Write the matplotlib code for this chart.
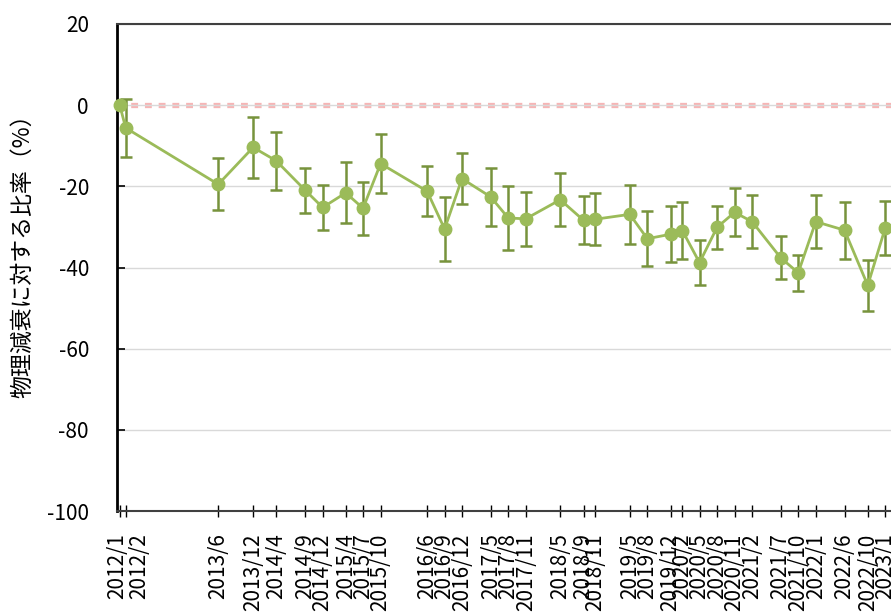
import numpy as np
import pandas as pd
import matplotlib
matplotlib.use('Agg')
import matplotlib.pyplot as plt
import matplotlib.transforms as mtrans

plt.rcParams['font.family'] = ['Noto Sans CJK JP', 'DejaVu Sans']
plt.rcParams['axes.unicode_minus'] = False

# 調査時期 (年/月)
dates = ['2012/1', '2012/2', '2013/6', '2013/12', '2014/4', '2014/9', '2014/12',
         '2015/4', '2015/7', '2015/10', '2016/6', '2016/9', '2016/12',
         '2017/5', '2017/8', '2017/11', '2018/5', '2018/9', '2018/11',
         '2019/5', '2019/8', '2019/12', '2020/2', '2020/5', '2020/8', '2020/11',
         '2021/2', '2021/7', '2021/10', '2022/1', '2022/6', '2022/10', '2023/1']
# 物理減衰に対する比率 (%)
ratio = [0.0, -5.6, -19.5, -10.4, -13.7, -21.0, -25.2,
         -21.6, -25.4, -14.4, -21.2, -30.5, -18.1,
         -22.6, -27.8, -28.0, -23.3, -28.4, -28.1,
         -26.9, -32.9, -31.8, -30.9, -38.8, -30.1, -26.4,
         -28.7, -37.6, -41.3, -28.7, -30.8, -44.4, -30.2]
# 誤差 (±)
err = [0.0, 7.2, 6.4, 7.6, 7.2, 5.6, 5.5,
       7.5, 6.5, 7.3, 6.1, 7.8, 6.3,
       7.1, 7.8, 6.7, 6.5, 5.9, 6.4,
       7.3, 6.8, 6.9, 7.0, 5.5, 5.3, 5.9,
       6.6, 5.3, 4.4, 6.6, 7.0, 6.3, 6.7]

x = pd.to_datetime(dates, format='%Y/%m')
y = np.array(ratio)
e = np.array(err)

fig = plt.figure(figsize=(8.91, 6.15), dpi=100)
ax = fig.add_axes([0.131, 0.169, 0.869, 0.792])

ax.grid(axis='y', color='#d9d9d9', linewidth=1.0, zorder=0)
ax.axhline(0, color='#f5a8a8', linewidth=3.8, linestyle=(0, (1.3, 1.3)),
           alpha=0.85, zorder=1)

ax.errorbar(x[1:], y[1:], yerr=e[1:], fmt='none', ecolor='#77933c',
            elinewidth=1.8, capsize=4.5, capthick=1.8, zorder=2)
ax.plot(x, y, '-o', color='#9bbb59', linewidth=2.0, markersize=9,
        zorder=3, clip_on=False)

ax.set_ylim(-100, 20)
ax.set_yticks(range(-100, 21, 20))
ax.set_xlim(pd.Timestamp('2011-12-16'), pd.Timestamp('2023-01-31'))
ax.set_xticks(x)
ax.set_xticklabels(dates, rotation=90)
ax.xaxis.set_minor_locator(plt.NullLocator())

ax.tick_params(axis='y', direction='in', length=6, width=1.2, pad=20,
               labelsize=15)
ax.tick_params(axis='x', direction='inout', length=8, width=1.0, pad=12,
               labelsize=15)

# 2012/1 と 2012/2 のラベルをずらす
labels = ax.get_xticklabels()
labels[0].set_transform(labels[0].get_transform() +
                        mtrans.ScaledTranslation(-2 / 72, 0, fig.dpi_scale_trans))
labels[1].set_transform(labels[1].get_transform() +
                        mtrans.ScaledTranslation(10 / 72, 0, fig.dpi_scale_trans))

ax.spines['left'].set_linewidth(2.0)
ax.spines['left'].set_color('black')
ax.spines['bottom'].set_color('#404040')
ax.spines['bottom'].set_linewidth(1.5)
ax.spines['top'].set_color('#404040')
ax.spines['top'].set_linewidth(1.5)
ax.spines['right'].set_visible(False)

ax.set_ylabel('物理減衰に対する比率（%）', fontsize=16.5)
ax.yaxis.set_label_coords(-0.107, 0.535)

fig.savefig('out.png', dpi=100)
